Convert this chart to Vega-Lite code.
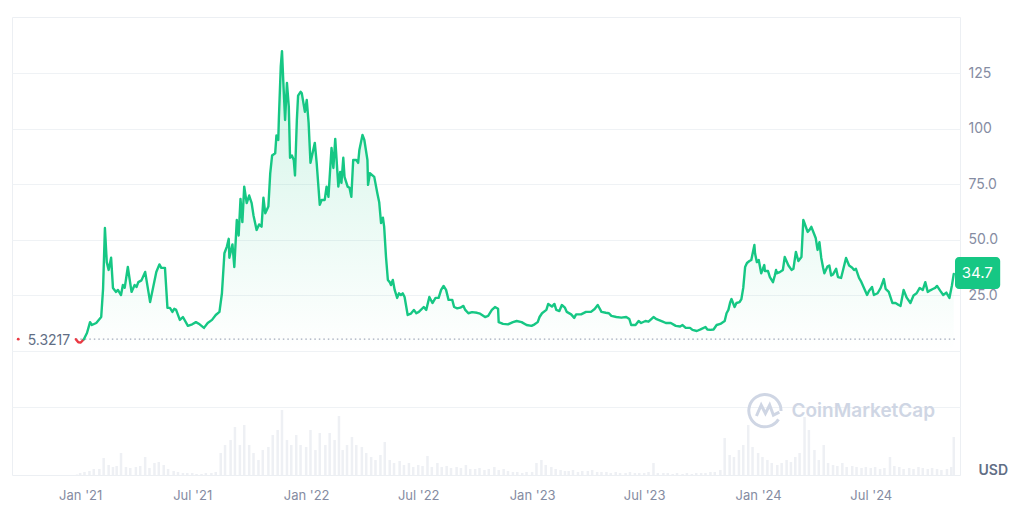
{
"$schema":"https://vega.github.io/schema/vega-lite/v6.json",
"width":948,"height":458,
"autosize":{"type":"none"},
"padding":{"left":12,"top":17,"right":64,"bottom":47},
"background":"white",
"config":{"font":"Inter","view":{"stroke":"#eceff3"}},
"datasets":{
"price":[
{"date":"2020-12-25","price":5.32},{"date":"2020-12-29","price":3.9},{"date":"2021-01-02","price":3.8},{"date":"2021-01-07","price":5.3},{"date":"2021-01-12","price":8.1},{"date":"2021-01-17","price":13},{"date":"2021-01-20","price":11.7},{"date":"2021-01-27","price":12.6},{"date":"2021-02-04","price":15.3},{"date":"2021-02-07","price":28},{"date":"2021-02-10","price":55.4},{"date":"2021-02-13","price":40},{"date":"2021-02-16","price":36.5},{"date":"2021-02-20","price":42},{"date":"2021-02-23","price":28.4},{"date":"2021-02-28","price":26.6},{"date":"2021-03-03","price":27.5},{"date":"2021-03-08","price":25.2},{"date":"2021-03-11","price":29.7},{"date":"2021-03-14","price":28.5},{"date":"2021-03-19","price":37.8},{"date":"2021-03-25","price":26.6},{"date":"2021-03-30","price":29.7},{"date":"2021-04-02","price":28.8},{"date":"2021-04-05","price":31},{"date":"2021-04-10","price":31.8},{"date":"2021-04-16","price":35.6},{"date":"2021-04-24","price":22},{"date":"2021-05-04","price":35.6},{"date":"2021-05-09","price":39},{"date":"2021-05-12","price":37.4},{"date":"2021-05-18","price":37.4},{"date":"2021-05-22","price":19.4},{"date":"2021-05-26","price":19.4},{"date":"2021-05-30","price":17.6},{"date":"2021-06-02","price":19},{"date":"2021-06-05","price":18.5},{"date":"2021-06-11","price":14},{"date":"2021-06-16","price":15.3},{"date":"2021-06-24","price":11.3},{"date":"2021-07-01","price":12},{"date":"2021-07-07","price":13},{"date":"2021-07-13","price":12},{"date":"2021-07-20","price":10.4},{"date":"2021-07-26","price":12.6},{"date":"2021-08-02","price":14},{"date":"2021-08-08","price":16.2},{"date":"2021-08-14","price":17.6},{"date":"2021-08-18","price":26},{"date":"2021-08-22","price":44},{"date":"2021-08-26","price":47},{"date":"2021-08-29","price":50.5},{"date":"2021-08-30","price":42},{"date":"2021-09-04","price":48},{"date":"2021-09-07","price":37.8},{"date":"2021-09-11","price":59},{"date":"2021-09-14","price":52},{"date":"2021-09-17","price":68.5},{"date":"2021-09-20","price":58},{"date":"2021-09-23","price":74},{"date":"2021-09-27","price":66.6},{"date":"2021-10-01","price":70},{"date":"2021-10-05","price":66.6},{"date":"2021-10-08","price":61},{"date":"2021-10-13","price":54.5},{"date":"2021-10-17","price":57},{"date":"2021-10-21","price":56},{"date":"2021-10-24","price":69},{"date":"2021-10-27","price":62},{"date":"2021-11-01","price":65},{"date":"2021-11-04","price":80},{"date":"2021-11-07","price":88},{"date":"2021-11-12","price":89},{"date":"2021-11-14","price":97},{"date":"2021-11-17","price":95},{"date":"2021-11-18","price":105},{"date":"2021-11-21","price":128},{"date":"2021-11-23","price":135},{"date":"2021-11-25","price":122},{"date":"2021-11-28","price":104},{"date":"2021-12-01","price":120.7},{"date":"2021-12-04","price":110},{"date":"2021-12-06","price":87},{"date":"2021-12-09","price":88},{"date":"2021-12-12","price":86},{"date":"2021-12-14","price":79},{"date":"2021-12-17","price":104},{"date":"2021-12-19","price":115},{"date":"2021-12-23","price":116.7},{"date":"2021-12-25","price":116},{"date":"2021-12-30","price":107.7},{"date":"2022-01-02","price":113},{"date":"2022-01-05","price":102.7},{"date":"2022-01-08","price":84.7},{"date":"2022-01-15","price":93.7},{"date":"2022-01-18","price":84.7},{"date":"2022-01-23","price":65.8},{"date":"2022-01-26","price":68},{"date":"2022-01-31","price":68},{"date":"2022-02-03","price":74},{"date":"2022-02-06","price":69.4},{"date":"2022-02-11","price":91.4},{"date":"2022-02-14","price":82.4},{"date":"2022-02-17","price":95.5},{"date":"2022-02-22","price":74},{"date":"2022-02-25","price":80.6},{"date":"2022-02-27","price":75.7},{"date":"2022-03-02","price":87},{"date":"2022-03-04","price":78.4},{"date":"2022-03-09","price":74},{"date":"2022-03-12","price":73.5},{"date":"2022-03-15","price":69.4},{"date":"2022-03-18","price":86},{"date":"2022-03-23","price":86},{"date":"2022-03-26","price":84.7},{"date":"2022-03-28","price":90.5},{"date":"2022-04-02","price":97.3},{"date":"2022-04-05","price":95},{"date":"2022-04-10","price":86},{"date":"2022-04-11","price":74.8},{"date":"2022-04-14","price":80},{"date":"2022-04-21","price":78.4},{"date":"2022-04-26","price":71},{"date":"2022-04-29","price":67},{"date":"2022-05-02","price":57.6},{"date":"2022-05-05","price":60},{"date":"2022-05-07","price":56},{"date":"2022-05-10","price":42.3},{"date":"2022-05-13","price":32},{"date":"2022-05-16","price":31},{"date":"2022-05-18","price":29.7},{"date":"2022-05-21","price":32},{"date":"2022-05-24","price":27.5},{"date":"2022-05-28","price":23.9},{"date":"2022-05-31","price":26},{"date":"2022-06-03","price":25.2},{"date":"2022-06-06","price":26},{"date":"2022-06-09","price":24.3},{"date":"2022-06-14","price":16.2},{"date":"2022-06-19","price":16.8},{"date":"2022-06-24","price":18.5},{"date":"2022-06-28","price":17},{"date":"2022-07-02","price":17.6},{"date":"2022-07-10","price":19.8},{"date":"2022-07-14","price":18.5},{"date":"2022-07-19","price":24.3},{"date":"2022-07-24","price":21.6},{"date":"2022-07-29","price":23.9},{"date":"2022-08-03","price":23.9},{"date":"2022-08-07","price":27.5},{"date":"2022-08-11","price":29.3},{"date":"2022-08-15","price":27.5},{"date":"2022-08-19","price":23},{"date":"2022-08-25","price":23},{"date":"2022-08-28","price":19.8},{"date":"2022-09-02","price":19.2},{"date":"2022-09-07","price":19.5},{"date":"2022-09-12","price":20.3},{"date":"2022-09-15","price":18.5},{"date":"2022-09-20","price":17},{"date":"2022-09-26","price":17.5},{"date":"2022-10-04","price":17.2},{"date":"2022-10-09","price":16.8},{"date":"2022-10-17","price":15.3},{"date":"2022-10-22","price":15.8},{"date":"2022-10-28","price":18.5},{"date":"2022-11-02","price":19.8},{"date":"2022-11-07","price":19},{"date":"2022-11-08","price":13},{"date":"2022-11-15","price":12.2},{"date":"2022-11-23","price":12},{"date":"2022-12-01","price":13},{"date":"2022-12-07","price":13.5},{"date":"2022-12-15","price":13},{"date":"2022-12-23","price":11.7},{"date":"2022-12-31","price":11.3},{"date":"2023-01-05","price":12},{"date":"2023-01-10","price":13},{"date":"2023-01-13","price":15.3},{"date":"2023-01-17","price":17},{"date":"2023-01-24","price":18.5},{"date":"2023-01-27","price":21.2},{"date":"2023-02-02","price":20},{"date":"2023-02-06","price":21.2},{"date":"2023-02-09","price":18.5},{"date":"2023-02-14","price":18},{"date":"2023-02-18","price":20.7},{"date":"2023-02-23","price":19.5},{"date":"2023-02-26","price":17.6},{"date":"2023-03-05","price":16.5},{"date":"2023-03-10","price":14.9},{"date":"2023-03-13","price":16.5},{"date":"2023-03-21","price":16.5},{"date":"2023-03-29","price":17.6},{"date":"2023-04-06","price":17.6},{"date":"2023-04-12","price":18.9},{"date":"2023-04-17","price":20.7},{"date":"2023-04-23","price":17.6},{"date":"2023-04-30","price":17.2},{"date":"2023-05-05","price":17},{"date":"2023-05-09","price":15.8},{"date":"2023-05-17","price":15.3},{"date":"2023-05-25","price":15},{"date":"2023-06-02","price":15.3},{"date":"2023-06-07","price":14.4},{"date":"2023-06-10","price":11.7},{"date":"2023-06-17","price":11.7},{"date":"2023-06-22","price":13.5},{"date":"2023-06-26","price":12.6},{"date":"2023-07-03","price":13.5},{"date":"2023-07-08","price":13.2},{"date":"2023-07-16","price":15.3},{"date":"2023-07-20","price":14.5},{"date":"2023-07-24","price":14},{"date":"2023-07-31","price":13.2},{"date":"2023-08-05","price":12.6},{"date":"2023-08-13","price":12.6},{"date":"2023-08-21","price":11.3},{"date":"2023-08-28","price":11},{"date":"2023-09-01","price":11.7},{"date":"2023-09-06","price":10.4},{"date":"2023-09-13","price":10.4},{"date":"2023-09-17","price":9.5},{"date":"2023-09-24","price":9},{"date":"2023-09-30","price":9.7},{"date":"2023-10-08","price":10.8},{"date":"2023-10-11","price":9.7},{"date":"2023-10-16","price":9.5},{"date":"2023-10-21","price":9.7},{"date":"2023-10-26","price":11.7},{"date":"2023-11-01","price":12.2},{"date":"2023-11-08","price":13.5},{"date":"2023-11-11","price":17},{"date":"2023-11-14","price":18.5},{"date":"2023-11-17","price":22},{"date":"2023-11-19","price":23.4},{"date":"2023-11-24","price":19.8},{"date":"2023-11-27","price":21.6},{"date":"2023-12-02","price":22},{"date":"2023-12-05","price":23.4},{"date":"2023-12-08","price":28.4},{"date":"2023-12-11","price":37.8},{"date":"2023-12-14","price":39.6},{"date":"2023-12-18","price":40.5},{"date":"2023-12-21","price":41},{"date":"2023-12-26","price":47.7},{"date":"2023-12-27","price":44},{"date":"2023-12-30","price":40},{"date":"2024-01-02","price":41},{"date":"2024-01-06","price":35},{"date":"2024-01-11","price":38.7},{"date":"2024-01-12","price":36},{"date":"2024-01-17","price":36},{"date":"2024-01-20","price":33.3},{"date":"2024-01-25","price":31},{"date":"2024-01-28","price":34},{"date":"2024-01-30","price":36.5},{"date":"2024-01-31","price":35},{"date":"2024-02-05","price":35.5},{"date":"2024-02-10","price":36.5},{"date":"2024-02-13","price":42.3},{"date":"2024-02-19","price":38.5},{"date":"2024-02-24","price":36.5},{"date":"2024-02-27","price":37},{"date":"2024-03-02","price":44.6},{"date":"2024-03-06","price":40.5},{"date":"2024-03-11","price":42.3},{"date":"2024-03-14","price":59},{"date":"2024-03-16","price":57.5},{"date":"2024-03-21","price":53.6},{"date":"2024-03-24","price":54.5},{"date":"2024-03-27","price":55.9},{"date":"2024-03-31","price":53},{"date":"2024-04-03","price":50.9},{"date":"2024-04-06","price":45.5},{"date":"2024-04-09","price":49},{"date":"2024-04-12","price":41.9},{"date":"2024-04-15","price":37.5},{"date":"2024-04-17","price":35},{"date":"2024-04-22","price":38},{"date":"2024-04-25","price":38.5},{"date":"2024-04-28","price":34},{"date":"2024-05-01","price":34.5},{"date":"2024-05-06","price":37},{"date":"2024-05-09","price":33.3},{"date":"2024-05-14","price":32.9},{"date":"2024-05-22","price":41.9},{"date":"2024-05-27","price":38.5},{"date":"2024-06-01","price":37.5},{"date":"2024-06-04","price":36.5},{"date":"2024-06-07","price":37},{"date":"2024-06-12","price":32.9},{"date":"2024-06-15","price":31.5},{"date":"2024-06-20","price":28.4},{"date":"2024-06-25","price":25.2},{"date":"2024-06-28","price":27},{"date":"2024-07-03","price":28.8},{"date":"2024-07-06","price":25.2},{"date":"2024-07-12","price":26},{"date":"2024-07-17","price":28.4},{"date":"2024-07-22","price":32.4},{"date":"2024-07-25","price":28},{"date":"2024-07-30","price":26.6},{"date":"2024-08-05","price":21.6},{"date":"2024-08-10","price":21.6},{"date":"2024-08-15","price":20.7},{"date":"2024-08-18","price":20.3},{"date":"2024-08-23","price":27.5},{"date":"2024-08-28","price":24},{"date":"2024-09-03","price":21.6},{"date":"2024-09-08","price":25},{"date":"2024-09-13","price":26},{"date":"2024-09-18","price":28.4},{"date":"2024-09-23","price":27.5},{"date":"2024-09-27","price":31},{"date":"2024-10-01","price":26.6},{"date":"2024-10-05","price":27.3},{"date":"2024-10-10","price":28},{"date":"2024-10-13","price":28.4},{"date":"2024-10-16","price":29.3},{"date":"2024-10-21","price":27.2},{"date":"2024-10-26","price":25.2},{"date":"2024-10-31","price":26.3},{"date":"2024-11-05","price":23.9},{"date":"2024-11-09","price":29.5},{"date":"2024-11-12","price":34.7}
],
"volume":[
{"date":"2020-12-27","vol":5},
{"date":"2021-01-01","vol":20},{"date":"2021-01-08","vol":30},{"date":"2021-01-16","vol":40},{"date":"2021-01-23","vol":60},
{"date":"2021-02-01","vol":60},{"date":"2021-02-08","vol":170},{"date":"2021-02-16","vol":100},{"date":"2021-02-23","vol":80},
{"date":"2021-03-01","vol":90},{"date":"2021-03-08","vol":220},{"date":"2021-03-16","vol":80},{"date":"2021-03-23","vol":70},
{"date":"2021-04-01","vol":80},{"date":"2021-04-08","vol":90},{"date":"2021-04-16","vol":180},{"date":"2021-04-23","vol":70},
{"date":"2021-05-01","vol":120},{"date":"2021-05-08","vol":130},{"date":"2021-05-16","vol":100},{"date":"2021-05-23","vol":60},
{"date":"2021-06-01","vol":40},{"date":"2021-06-08","vol":30},{"date":"2021-06-16","vol":20},{"date":"2021-06-23","vol":20},
{"date":"2021-07-01","vol":20},{"date":"2021-07-08","vol":10},{"date":"2021-07-16","vol":10},{"date":"2021-07-23","vol":20},
{"date":"2021-08-01","vol":20},{"date":"2021-08-08","vol":30},{"date":"2021-08-16","vol":220},{"date":"2021-08-23","vol":300},
{"date":"2021-09-01","vol":350},{"date":"2021-09-08","vol":480},{"date":"2021-09-16","vol":300},{"date":"2021-09-23","vol":500},
{"date":"2021-10-01","vol":300},{"date":"2021-10-08","vol":220},{"date":"2021-10-16","vol":150},{"date":"2021-10-23","vol":250},
{"date":"2021-11-01","vol":280},{"date":"2021-11-08","vol":400},{"date":"2021-11-16","vol":450},{"date":"2021-11-23","vol":650},
{"date":"2021-12-01","vol":350},{"date":"2021-12-08","vol":300},{"date":"2021-12-16","vol":400},{"date":"2021-12-23","vol":300},
{"date":"2022-01-01","vol":280},{"date":"2022-01-08","vol":450},{"date":"2022-01-16","vol":250},{"date":"2022-01-23","vol":420},
{"date":"2022-02-01","vol":300},{"date":"2022-02-08","vol":420},{"date":"2022-02-16","vol":350},{"date":"2022-02-23","vol":590},
{"date":"2022-03-01","vol":250},{"date":"2022-03-08","vol":300},{"date":"2022-03-16","vol":380},{"date":"2022-03-23","vol":300},
{"date":"2022-04-01","vol":280},{"date":"2022-04-08","vol":220},{"date":"2022-04-16","vol":180},{"date":"2022-04-23","vol":150},
{"date":"2022-05-01","vol":200},{"date":"2022-05-08","vol":330},{"date":"2022-05-16","vol":150},{"date":"2022-05-23","vol":120},
{"date":"2022-06-01","vol":140},{"date":"2022-06-08","vol":100},{"date":"2022-06-16","vol":120},{"date":"2022-06-23","vol":80},
{"date":"2022-07-01","vol":100},{"date":"2022-07-08","vol":90},{"date":"2022-07-16","vol":190},{"date":"2022-07-23","vol":80},
{"date":"2022-08-01","vol":120},{"date":"2022-08-08","vol":80},{"date":"2022-08-16","vol":90},{"date":"2022-08-23","vol":70},
{"date":"2022-09-01","vol":80},{"date":"2022-09-08","vol":70},{"date":"2022-09-16","vol":100},{"date":"2022-09-23","vol":60},
{"date":"2022-10-01","vol":60},{"date":"2022-10-08","vol":70},{"date":"2022-10-16","vol":50},{"date":"2022-10-23","vol":60},
{"date":"2022-11-01","vol":80},{"date":"2022-11-08","vol":50},{"date":"2022-11-16","vol":60},{"date":"2022-11-23","vol":40},
{"date":"2022-12-01","vol":30},{"date":"2022-12-08","vol":30},{"date":"2022-12-16","vol":20},{"date":"2022-12-23","vol":30},
{"date":"2023-01-01","vol":30},{"date":"2023-01-08","vol":120},{"date":"2023-01-16","vol":150},{"date":"2023-01-23","vol":100},
{"date":"2023-02-01","vol":80},{"date":"2023-02-08","vol":60},{"date":"2023-02-16","vol":50},{"date":"2023-02-23","vol":40},
{"date":"2023-03-01","vol":40},{"date":"2023-03-08","vol":50},{"date":"2023-03-16","vol":30},{"date":"2023-03-23","vol":40},
{"date":"2023-04-01","vol":40},{"date":"2023-04-08","vol":50},{"date":"2023-04-16","vol":30},{"date":"2023-04-23","vol":30},
{"date":"2023-05-01","vol":30},{"date":"2023-05-08","vol":20},{"date":"2023-05-16","vol":30},{"date":"2023-05-23","vol":20},
{"date":"2023-06-01","vol":20},{"date":"2023-06-08","vol":30},{"date":"2023-06-16","vol":20},{"date":"2023-06-23","vol":20},
{"date":"2023-07-01","vol":20},{"date":"2023-07-08","vol":30},{"date":"2023-07-16","vol":120},{"date":"2023-07-23","vol":20},
{"date":"2023-08-01","vol":20},{"date":"2023-08-08","vol":20},{"date":"2023-08-16","vol":10},{"date":"2023-08-23","vol":20},
{"date":"2023-09-01","vol":10},{"date":"2023-09-08","vol":20},{"date":"2023-09-16","vol":10},{"date":"2023-09-23","vol":20},
{"date":"2023-10-01","vol":20},{"date":"2023-10-08","vol":20},{"date":"2023-10-16","vol":30},{"date":"2023-10-23","vol":30},
{"date":"2023-11-01","vol":50},{"date":"2023-11-08","vol":370},{"date":"2023-11-16","vol":200},{"date":"2023-11-23","vol":180},
{"date":"2023-12-01","vol":250},{"date":"2023-12-08","vol":300},{"date":"2023-12-16","vol":500},{"date":"2023-12-23","vol":280},
{"date":"2024-01-01","vol":220},{"date":"2024-01-08","vol":180},{"date":"2024-01-16","vol":150},{"date":"2024-01-23","vol":120},
{"date":"2024-02-01","vol":100},{"date":"2024-02-08","vol":120},{"date":"2024-02-16","vol":150},{"date":"2024-02-23","vol":130},
{"date":"2024-03-01","vol":180},{"date":"2024-03-08","vol":220},{"date":"2024-03-16","vol":580},{"date":"2024-03-23","vol":450},
{"date":"2024-04-01","vol":250},{"date":"2024-04-08","vol":150},{"date":"2024-04-16","vol":300},{"date":"2024-04-23","vol":120},
{"date":"2024-05-01","vol":100},{"date":"2024-05-08","vol":90},{"date":"2024-05-16","vol":120},{"date":"2024-05-23","vol":80},
{"date":"2024-06-01","vol":90},{"date":"2024-06-08","vol":80},{"date":"2024-06-16","vol":70},{"date":"2024-06-23","vol":80},
{"date":"2024-07-01","vol":70},{"date":"2024-07-08","vol":80},{"date":"2024-07-16","vol":60},{"date":"2024-07-23","vol":70},
{"date":"2024-08-01","vol":180},{"date":"2024-08-08","vol":90},{"date":"2024-08-16","vol":80},{"date":"2024-08-23","vol":60},
{"date":"2024-09-01","vol":70},{"date":"2024-09-08","vol":60},{"date":"2024-09-16","vol":80},{"date":"2024-09-23","vol":70},
{"date":"2024-10-01","vol":60},{"date":"2024-10-08","vol":70},{"date":"2024-10-16","vol":60},{"date":"2024-10-23","vol":50},
{"date":"2024-11-01","vol":60},{"date":"2024-11-08","vol":80},{"date":"2024-11-12","vol":380}
]
},
"resolve":{"scale":{"y":"independent"}},
"layer":[
{"data":{"name":"volume"},
 "mark":{"type":"bar","color":"#eef0f4","size":2.5},
 "encoding":{
  "x":{"field":"date","type":"temporal","scale":{"type":"utc","domain":[{"year":2020,"month":9,"date":21,"utc":true},{"year":2024,"month":11,"date":14,"utc":true}]},
   "axis":{"values":[{"year":2021,"month":1,"date":1,"utc":true},{"year":2021,"month":7,"date":1,"utc":true},{"year":2022,"month":1,"date":1,"utc":true},{"year":2022,"month":7,"date":1,"utc":true},{"year":2023,"month":1,"date":1,"utc":true},{"year":2023,"month":7,"date":1,"utc":true},{"year":2024,"month":1,"date":1,"utc":true},{"year":2024,"month":7,"date":1,"utc":true}],
    "format":"%b '%y","labelColor":"#858ca2","labelFontSize":13,"labelPadding":14,"labelFlush":false,"ticks":false,"domain":false,"grid":false,"title":null,"labelFont":"Inter"}},
  "y":{"field":"vol","type":"quantitative","scale":{"domain":[0,4580],"nice":false,"zero":true},"axis":null}
 }},
{"layer":[
 {"data":{"name":"price"},
  "mark":{"type":"area","color":{"gradient":"linear","x1":0,"y1":1,"x2":0,"y2":0,"stops":[{"offset":0,"color":"rgba(22,199,132,0)"},{"offset":1,"color":"rgba(22,199,132,0.2)"}]}},
  "encoding":{
   "x":{"field":"date","type":"temporal","scale":{"type":"utc","domain":[{"year":2020,"month":9,"date":21,"utc":true},{"year":2024,"month":11,"date":14,"utc":true}]}},
   "y":{"field":"price","type":"quantitative","scale":{"domain":[-55.83,150.37],"nice":false,"zero":false},
    "axis":{"orient":"right","values":[-25,0,25,50,75,100,125],"labelExpr":"datum.value <= 0 ? '' : (datum.value >= 100 ? format(datum.value, 'd') : format(datum.value, '.1f'))","grid":true,"gridColor":"#eff2f5","ticks":false,"domain":false,"labelPadding":8,"labelColor":"#858ca2","labelFontSize":14,"labelFont":"Inter","title":"USD","titleAngle":0,"titleX":18,"titleY":453,"titleAlign":"left","titleBaseline":"middle","titleFontSize":14,"titleFontWeight":600,"titleColor":"#616e85","titleFont":"Inter"}}
  }},
 {"data":{"values":[{}]},
  "mark":{"type":"rule","color":"#a1a9ba","strokeDash":[1.5,3],"strokeWidth":1.2},
  "encoding":{
   "x":{"datum":{"year":2020,"month":12,"date":25,"utc":true},"type":"temporal","scale":{"type":"utc","domain":[{"year":2020,"month":9,"date":21,"utc":true},{"year":2024,"month":11,"date":14,"utc":true}]}},
   "x2":{"datum":{"year":2024,"month":11,"date":14,"utc":true}},
   "y":{"datum":5.3217,"type":"quantitative","scale":{"domain":[-55.83,150.37],"nice":false,"zero":false}}
  }},
 {"data":{"name":"price"},
  "transform":[{"filter":{"field":"date","lte":{"year":2021,"month":1,"date":7,"utc":true}}}],
  "mark":{"type":"line","color":"#ea3943","strokeWidth":2.4,"strokeCap":"round","strokeJoin":"round"},
  "encoding":{
   "x":{"field":"date","type":"temporal","scale":{"type":"utc","domain":[{"year":2020,"month":9,"date":21,"utc":true},{"year":2024,"month":11,"date":14,"utc":true}]}},
   "y":{"field":"price","type":"quantitative","scale":{"domain":[-55.83,150.37],"nice":false,"zero":false}}
  }},
 {"data":{"name":"price"},
  "transform":[{"filter":{"field":"date","gte":{"year":2021,"month":1,"date":7,"utc":true}}}],
  "mark":{"type":"line","color":"#16c784","strokeWidth":2.4,"strokeCap":"round","strokeJoin":"round"},
  "encoding":{
   "x":{"field":"date","type":"temporal","scale":{"type":"utc","domain":[{"year":2020,"month":9,"date":21,"utc":true},{"year":2024,"month":11,"date":14,"utc":true}]}},
   "y":{"field":"price","type":"quantitative","scale":{"domain":[-55.83,150.37],"nice":false,"zero":false}}
  }},
 {"data":{"values":[{}]},
  "mark":{"type":"text","align":"right","baseline":"middle","fontSize":14,"color":"#616e85","dy":2},
  "encoding":{
   "x":{"datum":{"year":2020,"month":12,"date":16,"utc":true},"type":"temporal","scale":{"type":"utc","domain":[{"year":2020,"month":9,"date":21,"utc":true},{"year":2024,"month":11,"date":14,"utc":true}]}},
   "y":{"datum":5.3217,"type":"quantitative","scale":{"domain":[-55.83,150.37],"nice":false,"zero":false}},
   "text":{"value":"5.3217"}
  }},
 {"data":{"values":[{}]},
  "mark":{"type":"point","filled":true,"color":"#ea3943","size":8,"opacity":1},
  "encoding":{
   "x":{"datum":{"year":2020,"month":9,"date":23,"utc":true},"type":"temporal","scale":{"type":"utc","domain":[{"year":2020,"month":9,"date":21,"utc":true},{"year":2024,"month":11,"date":14,"utc":true}]}},
   "y":{"datum":5.3217,"type":"quantitative","scale":{"domain":[-55.83,150.37],"nice":false,"zero":false}}
  }},
 {"data":{"values":[{}]},
  "mark":{"type":"point","shape":"M0.8,0.55 A0.95,0.95 0 1 1 0.95,0.05 M-0.5,0.35 L-0.22,-0.3 L0.03,0.2 L0.28,-0.3 L0.5,0.3 L0.85,0.12","filled":false,"color":"#cfd6e4","strokeWidth":3,"size":1150,"opacity":1},
  "encoding":{
   "x":{"datum":{"year":2024,"month":1,"date":12,"utc":true},"type":"temporal","scale":{"type":"utc","domain":[{"year":2020,"month":9,"date":21,"utc":true},{"year":2024,"month":11,"date":14,"utc":true}]}},
   "y":{"datum":-26.6,"type":"quantitative","scale":{"domain":[-55.83,150.37],"nice":false,"zero":false}}
  }},
 {"data":{"values":[{}]},
  "mark":{"type":"text","align":"left","baseline":"middle","fontSize":19,"fontWeight":600,"color":"#cfd6e4"},
  "encoding":{
   "x":{"datum":{"year":2024,"month":2,"date":24,"utc":true},"type":"temporal","scale":{"type":"utc","domain":[{"year":2020,"month":9,"date":21,"utc":true},{"year":2024,"month":11,"date":14,"utc":true}]}},
   "y":{"datum":-27,"type":"quantitative","scale":{"domain":[-55.83,150.37],"nice":false,"zero":false}},
   "text":{"value":"CoinMarketCap"}
  }},
 {"data":{"values":[{}]},
  "mark":{"type":"rect","color":"#16c784","cornerRadius":4},
  "encoding":{
   "x":{"datum":{"year":2024,"month":11,"date":14,"utc":true},"type":"temporal","scale":{"type":"utc","domain":[{"year":2020,"month":9,"date":21,"utc":true},{"year":2024,"month":11,"date":14,"utc":true}]}},
   "x2":{"datum":{"year":2025,"month":1,"date":26,"utc":true}},
   "y":{"datum":42.3,"type":"quantitative","scale":{"domain":[-55.83,150.37],"nice":false,"zero":false}},
   "y2":{"datum":27.9}
  }},
 {"data":{"values":[{}]},
  "mark":{"type":"text","align":"center","baseline":"middle","fontSize":15,"color":"white"},
  "encoding":{
   "x":{"datum":{"year":2024,"month":12,"date":20,"utc":true},"type":"temporal","scale":{"type":"utc","domain":[{"year":2020,"month":9,"date":21,"utc":true},{"year":2024,"month":11,"date":14,"utc":true}]}},
   "y":{"datum":35.1,"type":"quantitative","scale":{"domain":[-55.83,150.37],"nice":false,"zero":false}},
   "text":{"value":"34.7"}
  }}
]}
]
}
